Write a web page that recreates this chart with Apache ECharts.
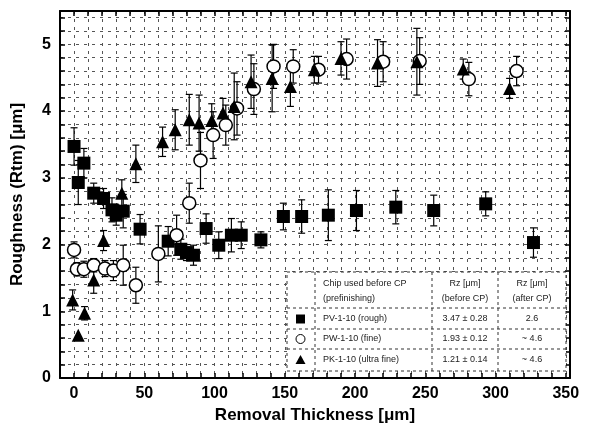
<!DOCTYPE html>
<html>
<head>
<meta charset="utf-8">
<script src="https://cdn.jsdelivr.net/npm/echarts@6/dist/echarts.min.js"></script>
<style>
html,body{margin:0;padding:0;background:#fff;}
#chart{width:590px;height:429px;}
</style>
</head>
<body>
<div id="chart"></div>
<script>
// ---- Data ----
// PV-1-10 (rough) : filled squares
const pvX   = [0, 3, 7, 14, 21, 27, 30, 35, 47, 67, 76, 80, 85, 94, 103, 112, 119, 133, 149, 162, 181, 201, 229, 256, 293, 327];
const pvY   = [3.47, 2.93, 3.22, 2.77, 2.69, 2.52, 2.44, 2.50, 2.23, 2.05, 1.93, 1.88, 1.84, 2.24, 1.99, 2.14, 2.14, 2.07, 2.42, 2.42, 2.44, 2.51, 2.56, 2.51, 2.61, 2.03];
const pvErr = [0.28, 0.33, 0.22, 0.15, 0.15, 0.18, 0.15, 0.25, 0.22, 0.22, 0.15, 0.12, 0.15, 0.22, 0.20, 0.25, 0.20, 0.12, 0.20, 0.25, 0.38, 0.30, 0.25, 0.23, 0.18, 0.22];

// PW-1-10 (fine) : open circles
const pwX   = [0, 2, 7, 14, 22, 28, 35, 44, 60, 73, 82, 90, 99, 108, 116, 128, 142, 156, 174, 194, 220, 246, 281, 315];
const pwY   = [1.92, 1.63, 1.63, 1.69, 1.64, 1.61, 1.69, 1.39, 1.86, 2.14, 2.62, 3.26, 3.64, 3.79, 4.04, 4.33, 4.67, 4.67, 4.62, 4.78, 4.74, 4.75, 4.48, 4.60];
const pwErr = [0.12, 0.10, 0.12, 0.10, 0.12, 0.15, 0.30, 0.27, 0.42, 0.30, 0.30, 0.42, 0.35, 0.30, 0.40, 0.38, 0.33, 0.25, 0.20, 0.30, 0.30, 0.35, 0.25, 0.22];

// PK-1-10 (ultra fine) : filled triangles
const pkX   = [-1, 3, 7.5, 14, 21, 34, 44, 63, 72, 82, 89, 98, 106, 114, 126, 141, 154, 171, 190, 216, 244, 277, 310];
const pkY   = [1.17, 0.64, 0.97, 1.47, 2.06, 2.77, 3.21, 3.54, 3.72, 3.87, 3.82, 3.86, 3.97, 4.07, 4.44, 4.49, 4.37, 4.62, 4.79, 4.72, 4.74, 4.63, 4.34];
const pkErr = [0.15, 0.00, 0.10, 0.20, 0.15, 0.20, 0.28, 0.22, 0.30, 0.38, 0.42, 0.25, 0.22, 0.50, 0.40, 0.50, 0.30, 0.20, 0.25, 0.35, 0.50, 0.15, 0.15];

// Legend table text
const tableHeader = [["Chip used before CP", "(prefinishing)"], ["Rz [\u03bcm]", "(before CP)"], ["Rz [\u03bcm]", "(after CP)"]];
const tableNames  = ["PV-1-10 (rough)", "PW-1-10 (fine)", "PK-1-10 (ultra fine)"];
const tableBefore = ["3.47 \u00b1 0.28", "1.93 \u00b1 0.12", "1.21 \u00b1 0.14"];
const tableAfter  = ["2.6", "~ 4.6", "~ 4.6"];

const xTitle = "Removal Thickness [\u03bcm]";
const yTitle = "Roughness (Rtm) [\u03bcm]";

// ---- Build ----
function pairs(xs, ys) { return xs.map((x, i) => [x, ys[i]]); }
function errData(xs, ys, es) { return xs.map((x, i) => [x, ys[i] - es[i], ys[i] + es[i]]); }

function errSeries(xs, ys, es) {
  return {
    type: 'custom',
    silent: true,
    z: 3,
    data: errData(xs, ys, es),
    renderItem: function (params, api) {
      const x = api.value(0), lo = api.value(1), hi = api.value(2);
      if (hi - lo < 1e-6) return null;
      const p1 = api.coord([x, lo]), p2 = api.coord([x, hi]);
      const c = 3.5;
      const st = { stroke: '#000', lineWidth: 1.2 };
      return {
        type: 'group',
        children: [
          { type: 'line', shape: { x1: p1[0], y1: p1[1], x2: p2[0], y2: p2[1] }, style: st },
          { type: 'line', shape: { x1: p1[0] - c, y1: p1[1], x2: p1[0] + c, y2: p1[1] }, style: st },
          { type: 'line', shape: { x1: p2[0] - c, y1: p2[1], x2: p2[0] + c, y2: p2[1] }, style: st }
        ]
      };
    }
  };
}

const FONT = '"Liberation Sans", Arial, sans-serif';
const gridLine = { color: '#555', width: 1, type: [3, 5] };

const xCommon = {
  type: 'value', min: -10, max: 353, interval: 10,
  axisLine: { onZero: false, lineStyle: { color: '#000', width: 2 } },
  axisTick: { inside: true, length: 5, lineStyle: { color: '#000', width: 1.5 } }
};
const yCommon = {
  type: 'value', min: 0, max: 5.5, interval: 0.2,
  axisLine: { onZero: false, lineStyle: { color: '#000', width: 2 } },
  axisTick: { inside: true, length: 5, lineStyle: { color: '#000', width: 1.5 } }
};

// Legend table graphic
const tL = 287, tR = 566, tT = 272, tB = 371;
const colX = [315, 432, 498];
const rowY = [308, 329, 349];
const dash = { stroke: '#333', lineWidth: 1, lineDash: [3, 3] };
const tFont = '9px ' + FONT;
const g = [];
g.push({ type: 'rect', shape: { x: tL, y: tT, width: tR - tL, height: tB - tT }, style: { fill: '#fff', stroke: '#333', lineWidth: 1, lineDash: [3, 3] }, z: 50 });
colX.forEach(cx => g.push({ type: 'line', shape: { x1: cx, y1: tT, x2: cx, y2: tB }, style: dash, z: 51 }));
rowY.forEach(ry => g.push({ type: 'line', shape: { x1: tL, y1: ry, x2: tR, y2: ry }, style: dash, z: 51 }));
const hdrX = [323, 465, 532];
const hdrAlign = ['left', 'center', 'center'];
tableHeader.forEach((h, i) => {
  g.push({ type: 'text', x: hdrX[i], y: 284, style: { text: h[0], font: tFont, fill: '#222', align: hdrAlign[i], verticalAlign: 'middle' }, z: 52 });
  g.push({ type: 'text', x: hdrX[i], y: 299, style: { text: h[1], font: tFont, fill: '#222', align: hdrAlign[i], verticalAlign: 'middle' }, z: 52 });
});
const rowMid = [319, 339, 360];
tableNames.forEach((n, i) => {
  g.push({ type: 'text', x: 323, y: rowMid[i], style: { text: n, font: tFont, fill: '#222', align: 'left', verticalAlign: 'middle' }, z: 52 });
  g.push({ type: 'text', x: 465, y: rowMid[i], style: { text: tableBefore[i], font: tFont, fill: '#222', align: 'center', verticalAlign: 'middle' }, z: 52 });
  g.push({ type: 'text', x: 532, y: rowMid[i], style: { text: tableAfter[i], font: tFont, fill: '#222', align: 'center', verticalAlign: 'middle' }, z: 52 });
});
// legend markers
g.push({ type: 'rect', shape: { x: 296, y: rowMid[0] - 4.5, width: 9, height: 9 }, style: { fill: '#000' }, z: 52 });
g.push({ type: 'circle', shape: { cx: 300.5, cy: rowMid[1], r: 4.5 }, style: { fill: '#fff', stroke: '#000', lineWidth: 1 }, z: 52 });
g.push({ type: 'polygon', shape: { points: [[300.5, rowMid[2] - 5], [305.5, rowMid[2] + 4], [295.5, rowMid[2] + 4]] }, style: { fill: '#000' }, z: 52 });

const option = {
  animation: false,
  backgroundColor: '#fff',
  textStyle: { fontFamily: FONT },
  grid: { left: 60, right: 20, top: 11, bottom: 51 },
  xAxis: [
    Object.assign({}, xCommon, {
      position: 'bottom',
      name: xTitle, nameLocation: 'middle', nameGap: 28,
      nameTextStyle: { fontFamily: FONT, fontWeight: 'bold', fontSize: 17, color: '#000' },
      axisLabel: {
        margin: 8, fontFamily: FONT, fontWeight: 'bold', fontSize: 16, color: '#000',
        showMinLabel: false, showMaxLabel: false,
        formatter: v => (v >= 0 && Math.abs(v % 50) < 1e-6) ? String(v) : ''
      },
      splitLine: { show: true, lineStyle: gridLine }
    }),
    Object.assign({}, xCommon, {
      position: 'top', axisLabel: { show: false }, splitLine: { show: false }
    })
  ],
  yAxis: [
    Object.assign({}, yCommon, {
      position: 'left',
      name: yTitle, nameLocation: 'middle', nameGap: 34, nameRotate: 90,
      nameTextStyle: { fontFamily: FONT, fontWeight: 'bold', fontSize: 17, color: '#000' },
      axisLabel: {
        margin: 9, fontFamily: FONT, fontWeight: 'bold', fontSize: 16, color: '#000',
        showMaxLabel: false,
        formatter: v => (Math.abs(v - Math.round(v)) < 1e-6) ? String(Math.round(v)) : ''
      },
      splitLine: { show: true, lineStyle: gridLine }
    }),
    Object.assign({}, yCommon, {
      position: 'right', axisLabel: { show: false }, splitLine: { show: false }
    })
  ],
  series: [
    errSeries(pvX, pvY, pvErr),
    { type: 'scatter', name: 'PV-1-10 (rough)', data: pairs(pvX, pvY), symbol: 'rect', symbolSize: 13, itemStyle: { color: '#000', opacity: 1 }, emphasis: { disabled: true }, z: 4 },
    errSeries(pwX, pwY, pwErr),
    { type: 'scatter', name: 'PW-1-10 (fine)', data: pairs(pwX, pwY), symbol: 'circle', symbolSize: 13, itemStyle: { color: '#fff', borderColor: '#000', borderWidth: 1.5, opacity: 1 }, emphasis: { disabled: true }, z: 5 },
    errSeries(pkX, pkY, pkErr),
    { type: 'scatter', name: 'PK-1-10 (ultra fine)', data: pairs(pkX, pkY), symbol: 'triangle', symbolSize: 13, itemStyle: { color: '#000', opacity: 1 }, emphasis: { disabled: true }, z: 6 }
  ],
  graphic: g
};

const chart = echarts.init(document.getElementById('chart'), null, { renderer: 'canvas' });
chart.setOption(option);
</script>
</body>
</html>
